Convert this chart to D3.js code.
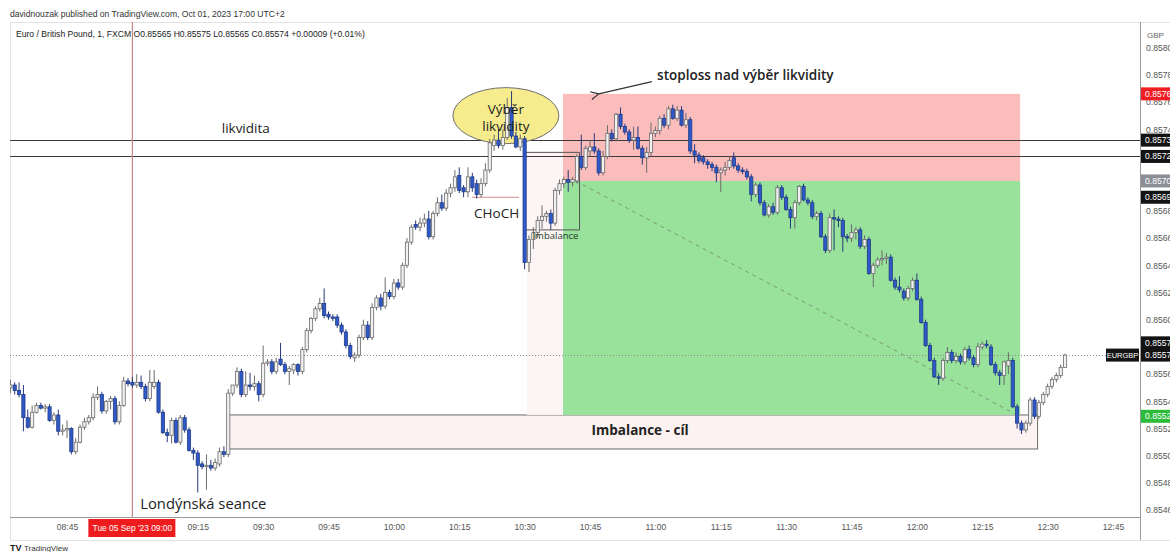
<!DOCTYPE html>
<html>
<head>
<meta charset="utf-8">
<script src="https://cdn.jsdelivr.net/npm/d3@7"></script>
<style>
  body { margin: 0; background: #fff; }
  svg { display: block; }
</style>
</head>
<body>
<div id="chart"></div>
<script>
// EURGBP 1 min, FXCM, 05 Sep 2023, prices in points (0.85552 -> 85552)
// minutes are counted from 08:45, first bar is 08:32
const startMinute = -13;

// [open, high, low, close]
const bars = [
  [85550,85556,85546,85552],[85552,85554,85545,85548],[85548,85554,85543,85545],[85545,85552,85518,85528],
  [85528,85534,85520,85521],[85521,85537,85520,85532],[85532,85539,85531,85537],[85537,85539,85534,85535],
  [85535,85538,85532,85536],[85536,85538,85525,85526],[85526,85532,85523,85530],[85530,85534,85515,85518],
  [85518,85523,85515,85519],[85519,85526,85513,85520],[85520,85521,85501,85503],[85503,85513,85501,85510],
  [85510,85523,85509,85521],[85521,85528,85519,85525],[85525,85530,85523,85528],[85528,85546,85526,85543],
  [85543,85551,85541,85545],[85545,85547,85531,85533],[85533,85541,85531,85540],[85540,85544,85534,85542],
  [85542,85544,85523,85525],[85525,85540,85523,85537],[85537,85558,85536,85555],[85555,85557,85551,85553],
  // 09:00
  [85554,85558,85550,85552],[85552,85560,85550,85554],[85554,85559,85549,85551],[85551,85553,85540,85542],
  [85542,85563,85540,85554],[85551,85563,85549,85554],[85554,85556,85531,85532],[85532,85534,85516,85517],
  [85517,85520,85510,85515],[85515,85528,85509,85526],[85526,85528,85509,85510],[85510,85530,85508,85528],
  [85528,85530,85517,85519],[85519,85521,85503,85504],[85504,85506,85497,85502],[85502,85504,85473,85493],
  [85494,85496,85490,85492],[85492,85501,85475,85493],[85493,85497,85489,85491],[85491,85498,85489,85495],
  [85494,85506,85492,85503],[85503,85507,85499,85501],
  // 09:22
  [85501,85549,85499,85546],[85546,85552,85544,85552],[85552,85565,85550,85562],[85562,85564,85543,85545],
  [85545,85562,85543,85552],[85552,85561,85548,85551],[85551,85559,85548,85553],[85553,85555,85540,85545],
  [85545,85581,85543,85568],[85568,85571,85566,85569],
  [85569,85571,85560,85562],[85562,85572,85560,85569],[85571,85583,85566,85567],[85567,85569,85560,85562],
  [85562,85566,85552,85564],[85563,85568,85560,85567],[85567,85568,85559,85562],[85562,85580,85560,85578],
  [85578,85594,85576,85592],[85592,85602,85590,85601],
  [85601,85610,85599,85608],[85608,85616,85606,85612],[85612,85623,85601,85603],[85604,85606,85600,85602],
  [85602,85604,85599,85601],[85602,85604,85594,85596],[85596,85598,85589,85591],[85591,85593,85579,85581],
  [85581,85583,85571,85573],[85572,85576,85569,85574],
  [85574,85589,85572,85587],[85587,85600,85585,85596],[85596,85599,85585,85587],[85587,85612,85585,85609],
  [85609,85618,85607,85616],[85616,85619,85607,85610],[85610,85631,85608,85620],[85620,85622,85615,85617],
  [85617,85630,85615,85627],[85627,85630,85622,85624],
  [85624,85642,85622,85640],[85640,85660,85638,85657],[85657,85670,85655,85668],[85670,85673,85666,85668],
  [85668,85675,85665,85671],[85671,85678,85668,85674],[85674,85680,85659,85661],[85661,85680,85659,85678],
  [85678,85690,85676,85686],[85686,85692,85680,85682],
  [85682,85696,85680,85693],[85693,85700,85690,85697],[85697,85710,85694,85705],[85706,85712,85693,85695],
  [85697,85699,85690,85694],[85694,85712,85690,85705],[85705,85708,85694,85697],[85700,85703,85689,85692],
  [85692,85704,85690,85700],[85700,85715,85698,85710],
  [85710,85733,85708,85730],[85728,85736,85724,85732],[85732,85740,85726,85728],[85728,85740,85725,85734],
  [85734,85763,85732,85756],[85756,85768,85733,85735],[85735,85738,85726,85727],[85727,85736,85724,85733],
  // 10:30
  [85733,85735,85637,85642],[85642,85662,85635,85659],
  [85659,85668,85652,85664],[85664,85676,85660,85673],[85673,85684,85667,85676],[85676,85680,85672,85678],
  [85678,85681,85666,85671],[85671,85697,85669,85695],[85695,85703,85692,85700],[85700,85705,85697,85703],
  [85703,85710,85694,85701],[85701,85705,85698,85703],
  [85702,85722,85700,85720],[85720,85736,85710,85712],[85712,85728,85710,85726],[85724,85732,85720,85727],
  [85727,85737,85722,85724],[85724,85726,85706,85708],[85708,85724,85706,85720],[85720,85743,85718,85737],
  [85737,85740,85731,85733],[85733,85752,85731,85751],
  [85751,85756,85740,85742],[85742,85744,85736,85738],[85738,85740,85730,85732],[85732,85742,85725,85734],
  [85734,85742,85725,85726],[85726,85728,85714,85719],[85719,85727,85708,85723],[85723,85745,85720,85737],
  [85737,85742,85734,85739],[85739,85750,85736,85748],
  [85748,85751,85741,85743],[85743,85757,85740,85755],[85755,85758,85747,85748],[85748,85757,85746,85754],
  [85754,85757,85742,85743],[85743,85752,85741,85747],[85747,85749,85722,85724],[85724,85729,85715,85721],
  [85721,85723,85715,85717],[85719,85721,85714,85716],
  [85716,85718,85711,85714],[85714,85716,85709,85712],[85712,85714,85701,85708],[85708,85712,85694,85710],
  [85710,85716,85706,85712],[85712,85720,85710,85717],[85719,85723,85711,85713],[85713,85715,85708,85710],
  [85710,85712,85707,85709],[85709,85711,85703,85705],
  [85705,85707,85687,85692],[85692,85701,85690,85699],[85699,85701,85684,85686],[85686,85688,85676,85677],
  [85677,85685,85675,85683],[85683,85686,85677,85679],[85679,85699,85677,85697],[85697,85699,85688,85690],
  [85690,85692,85680,85681],[85681,85683,85667,85675],
  [85675,85688,85667,85686],[85686,85699,85684,85698],[85698,85700,85687,85688],[85688,85690,85684,85686],
  [85686,85688,85674,85676],[85676,85680,85673,85678],[85678,85680,85660,85661],[85661,85663,85649,85651],
  [85651,85678,85649,85675],[85675,85681,85651,85674],
  [85674,85676,85668,85673],[85673,85675,85650,85661],[85661,85663,85657,85660],[85660,85670,85657,85664],
  [85664,85668,85659,85666],[85666,85668,85652,85654],[85654,85662,85652,85659],[85659,85661,85633,85634],
  [85634,85642,85624,85640],[85640,85646,85638,85644],
  [85644,85651,85640,85645],[85645,85649,85641,85646],[85646,85648,85628,85629],[85629,85631,85622,85624],
  [85624,85632,85620,85622],[85621,85623,85614,85616],[85616,85625,85614,85623],[85623,85631,85621,85629],
  [85629,85634,85614,85615],[85615,85617,85597,85598],
  [85598,85600,85580,85581],[85581,85583,85569,85570],[85570,85572,85557,85558],[85558,85560,85552,85557],
  [85557,85572,85555,85570],[85570,85580,85568,85576],[85576,85578,85568,85570],[85570,85576,85568,85573],
  [85573,85575,85567,85569],[85569,85580,85567,85578],
  [85578,85581,85570,85572],[85572,85574,85565,85567],[85567,85583,85565,85580],[85580,85584,85578,85582],
  [85582,85585,85579,85581],[85580,85582,85566,85567],[85567,85569,85559,85561],[85561,85563,85552,85559],
  [85559,85570,85552,85569],[85566,85576,85560,85570],
  [85570,85572,85535,85536],[85536,85538,85520,85524],[85524,85526,85516,85519],[85519,85526,85517,85524],
  [85524,85543,85522,85541],[85541,85543,85527,85529],[85529,85541,85527,85539],[85539,85547,85537,85545],
  [85545,85553,85543,85551],[85551,85558,85549,85556],
  [85556,85561,85554,85559],[85559,85567,85557,85565],[85565,85575,85565,85574]
];

const timeTicks = [0, 15, 30, 45, 60, 75, 90, 105, 120, 135, 150, 165, 180, 195, 210, 225, 240];
const timeLabels = ["08:45", "", "09:15", "09:30", "09:45", "10:00", "10:15", "10:30", "10:45",
                    "11:00", "11:15", "11:30", "11:45", "12:00", "12:15", "12:30", "12:45"];
const priceTicks = [85800, 85780, 85760, 85740, 85720, 85700, 85680, 85660, 85640,
                    85620, 85600, 85580, 85560, 85540, 85520, 85500, 85480, 85460];

// levels drawn on the chart
const liquidityLevels = [85732, 85720];
const lastPrice = 85574;
const chochLevel = 85690;
const stopPrice = 85766, entryPrice = 85702, targetPrice = 85530;

// price scale tags: text, price, background
const tagTexts  = ["0.85766", "0.85732", "0.85720", "0.85703", "0.85690", "0.85577", "0.85574", "0.85529"];
const tagPrices = [85766, 85732, 85720, 85702, 85690, 85583, 85574, 85529];
const tagColors = ["#f01e23", "#131313", "#131313", "#8c8e96", "#131313", "#131313", "#131313", "#2dbb3a"];

const W = 1170, H = 552;
const plot = { left: 10, right: 1140, top: 22, bottom: 517 };

const svg = d3.select("#chart").append("svg")
  .attr("width", W).attr("height", H)
  .style("font-family", "'Liberation Sans', Arial, sans-serif");

const x = d3.scaleLinear().domain([0, 240]).range([67, 1113]);
const y = d3.scaleLinear().domain([85460, 85800]).range([510.2, 47.6]);
const bx = i => x(startMinute + i);

// header
svg.append("text").attr("x", 10).attr("y", 17).attr("font-size", 8.6).attr("fill", "#333")
  .text("davidnouzak published on TradingView.com, Oct 01, 2023 17:00 UTC+2");
svg.append("rect").attr("x", 10.5).attr("y", 22.5).attr("width", W).attr("height", 518)
  .attr("fill", "none").attr("stroke", "#e2e2e2");

svg.append("defs").append("clipPath").attr("id", "clip")
  .append("rect").attr("x", plot.left).attr("y", plot.top)
  .attr("width", plot.right - plot.left).attr("height", plot.bottom - plot.top);
svg.select("defs").append("marker").attr("id", "arrow")
  .attr("viewBox", "0 0 10 10").attr("refX", 1).attr("refY", 5)
  .attr("markerWidth", 9).attr("markerHeight", 9).attr("orient", "auto-start-reverse")
  .append("path").attr("d", "M9,1 L1,5 L9,9").attr("fill", "none").attr("stroke", "#333").attr("stroke-width", 1.2);

const g = svg.append("g").attr("clip-path", "url(#clip)");

// target imbalance box
g.append("rect")
  .attr("x", x(37.2)).attr("y", y(targetPrice))
  .attr("width", x(222.7) - x(37.2)).attr("height", y(85505) - y(targetPrice))
  .attr("fill", "#fdf2f2").attr("stroke", "#6a6a6a");

// faint imbalance zone after the drop
g.append("rect")
  .attr("x", x(105.5)).attr("y", y(85723))
  .attr("width", x(113.8) - x(105.5)).attr("height", y(targetPrice) - y(85723))
  .attr("fill", "#fdf5f5");

// short position
g.append("rect")
  .attr("x", x(113.8)).attr("y", y(stopPrice))
  .attr("width", x(218.7) - x(113.8)).attr("height", y(entryPrice) - y(stopPrice))
  .attr("fill", "#fbbcbc");
g.append("rect")
  .attr("x", x(113.8)).attr("y", y(entryPrice))
  .attr("width", x(218.7) - x(113.8)).attr("height", y(targetPrice) - y(entryPrice))
  .attr("fill", "#98e29c");
g.append("line")
  .attr("x1", x(116.7)).attr("y1", y(entryPrice))
  .attr("x2", x(217.4)).attr("y2", y(85531))
  .attr("stroke", "#7c9a80").attr("stroke-width", 1).attr("stroke-dasharray", "4,4");

// small imbalance box
g.append("path")
  .attr("d", `M${x(105)},${y(85723)} H${x(117.6)} V${y(85666)} H${x(105)}`)
  .attr("fill", "none").attr("stroke", "#555");

// liquidity lines
g.selectAll("line.liq").data(liquidityLevels).join("line")
  .attr("x1", plot.left).attr("x2", plot.right)
  .attr("y1", d => Math.round(y(d)) + 0.5).attr("y2", d => Math.round(y(d)) + 0.5)
  .attr("stroke", "#3a3a3a").attr("stroke-width", 1);

// last price line
g.append("line")
  .attr("x1", plot.left).attr("x2", plot.right)
  .attr("y1", Math.round(y(lastPrice)) + 0.5).attr("y2", Math.round(y(lastPrice)) + 0.5)
  .attr("stroke", "#8a8a8a").attr("stroke-dasharray", "1,2");

// London session start
g.append("line")
  .attr("x1", x(15)).attr("x2", x(15)).attr("y1", plot.top).attr("y2", plot.bottom)
  .attr("stroke", "#c98585").attr("stroke-width", 1.2);

// CHoCH level
g.append("line")
  .attr("x1", x(92.9)).attr("x2", x(103.7))
  .attr("y1", y(chochLevel)).attr("y2", y(chochLevel))
  .attr("stroke", "#d48a8a").attr("stroke-width", 1.2);

// liquidity sweep ellipse
g.append("ellipse")
  .attr("cx", x(100.7)).attr("cy", y(85750)).attr("rx", 53).attr("ry", 28)
  .attr("fill", "#f6ec8e").attr("stroke", "#6e6e6e");

// candles
const up = d => d[3] >= d[0];
const candles = g.append("g").selectAll("g").data(bars).join("g");
candles.append("line")
  .attr("x1", (d, i) => bx(i)).attr("x2", (d, i) => bx(i))
  .attr("y1", d => y(d[1])).attr("y2", d => y(d[2]))
  .attr("stroke", d => up(d) ? "#6b6b6b" : "#25387a").attr("stroke-width", 1);
candles.append("rect")
  .attr("x", (d, i) => bx(i) - 1.6).attr("width", 3.2)
  .attr("y", d => y(Math.max(d[0], d[3])))
  .attr("height", d => Math.max(1, Math.abs(y(d[0]) - y(d[3]))))
  .attr("fill", d => up(d) ? "#f1f1f1" : "#2d5ac8")
  .attr("stroke", d => up(d) ? "#6b6b6b" : "#223a86").attr("stroke-width", 0.8);

// annotation texts
const note = (m, p, txt, size, weight, anchor, color) =>
  g.append("text").attr("x", x(m)).attr("y", y(p)).attr("font-size", size)
    .attr("font-weight", weight || "normal").attr("text-anchor", anchor || "start")
    .attr("fill", color || "#222").style("font-family", "'Open Sans', 'Noto Sans', sans-serif").text(txt);

note(35.5, 85737, "likvidita", 13.5);
note(100.7, 85751, "Výběr", 13.5, "normal", "middle");
note(100.7, 85739, "likvidity", 13.5, "normal", "middle");
note(93.4, 85675, "CHoCH", 13.5);
note(106.8, 85659, "Imbalance", 9.5, "normal", "start", "#1d3a1d");
note(135.4, 85776, "stoploss nad výběr likvidity", 13.5, 600);
note(131.5, 85515, "Imbalance - cíl", 13.5, 700, "middle");
note(16.8, 85461, "Londýnská seance", 14.8);

g.append("line")
  .attr("x1", x(134.2)).attr("y1", y(85775))
  .attr("x2", x(122)).attr("y2", y(85766))
  .attr("stroke", "#333").attr("stroke-width", 1.1)
  .attr("marker-end", "url(#arrow)");

// legend line
svg.append("text").attr("x", 16).attr("y", 37).attr("font-size", 8.6).attr("fill", "#222")
  .text("Euro / British Pound, 1, FXCM  O0.85565  H0.85575  L0.85565  C0.85574  +0.00009 (+0.01%)");

// price axis, ticks hidden where a tag sits on top of them
const covered = p => tagPrices.some(t => Math.abs(y(t) - y(p)) < 8);
const yAxis = svg.append("g").attr("transform", `translate(${plot.right},0)`)
  .call(d3.axisRight(y).tickValues(priceTicks.filter(p => !covered(p))).tickSize(0).tickPadding(6)
    .tickFormat(d => (d / 1e5).toFixed(5)));
yAxis.select(".domain").remove();
yAxis.selectAll("text").attr("font-size", 8.6).attr("fill", "#555")
  .style("font-family", "'Liberation Sans', Arial, sans-serif");
svg.append("line").attr("x1", plot.right + 0.5).attr("x2", plot.right + 0.5)
  .attr("y1", plot.top).attr("y2", 540).attr("stroke", "#9a9a9a");
svg.append("text").attr("x", 1147).attr("y", 38).attr("font-size", 8).attr("fill", "#666").text("GBP");

// price tags
tagPrices.forEach((p, i) => {
  const cy = y(p);
  svg.append("rect").attr("x", plot.right + 1).attr("y", cy - 6.5).attr("width", 40).attr("height", 13)
    .attr("fill", tagColors[i]);
  svg.append("text").attr("x", 1145).attr("y", cy + 3).attr("font-size", 8.6).attr("fill", "#fff")
    .text(tagTexts[i]);
});
svg.append("rect").attr("x", 1106).attr("y", y(lastPrice) - 6.5).attr("width", 33).attr("height", 13)
  .attr("fill", "#131313");
svg.append("text").attr("x", 1122.5).attr("y", y(lastPrice) + 3).attr("font-size", 7.5)
  .attr("text-anchor", "middle").attr("fill", "#fff").text("EURGBP");

// time axis
const xAxis = svg.append("g").attr("transform", `translate(0,${plot.bottom})`)
  .call(d3.axisBottom(x).tickValues(timeTicks).tickSize(0).tickPadding(7)
    .tickFormat((d, i) => timeLabels[i]));
xAxis.select(".domain").remove();
xAxis.selectAll("text").attr("font-size", 8.6).attr("fill", "#555")
  .style("font-family", "'Liberation Sans', Arial, sans-serif");
svg.append("line").attr("x1", plot.left).attr("x2", plot.right)
  .attr("y1", plot.bottom + 0.5).attr("y2", plot.bottom + 0.5).attr("stroke", "#9a9a9a");
svg.append("rect").attr("x", x(15) - 44).attr("y", 519).attr("width", 87).attr("height", 18).attr("fill", "#ee1c1c");
svg.append("text").attr("x", x(15)).attr("y", 531).attr("text-anchor", "middle")
  .attr("font-size", 8.4).attr("fill", "#fff").text("Tue 05 Sep '23   09:00");

// footer
svg.append("text").attr("x", 10).attr("y", 551).attr("font-size", 9).attr("font-weight", 700)
  .attr("fill", "#222").text("TV");
svg.append("text").attr("x", 24).attr("y", 550.5).attr("font-size", 8).attr("fill", "#333").text("TradingView");
</script>
</body>
</html>
